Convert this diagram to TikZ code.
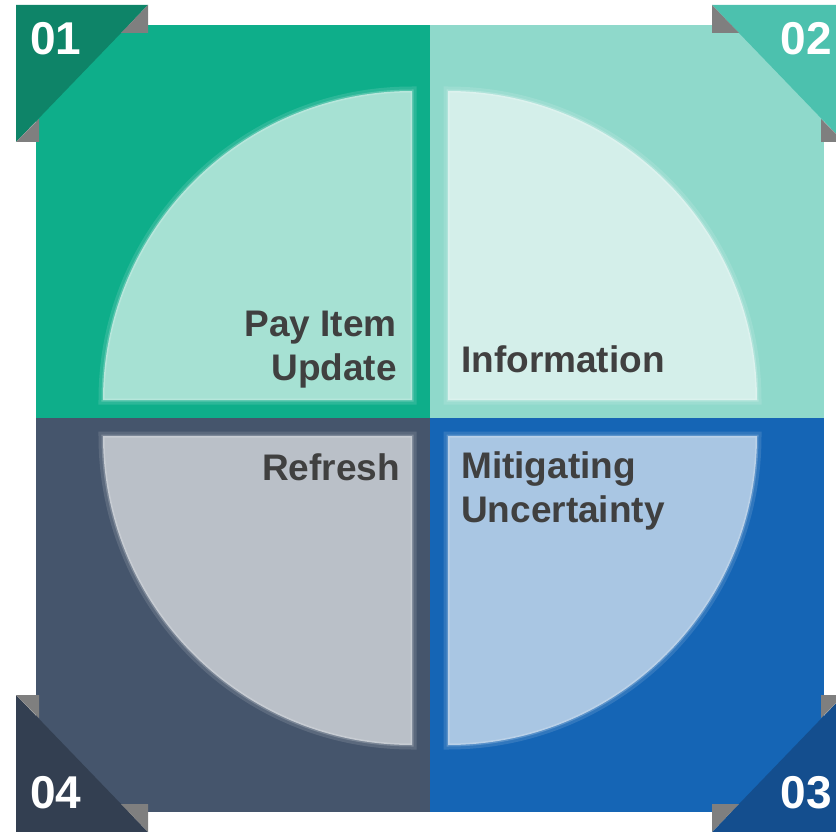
\documentclass[tikz,border=0pt]{standalone}
\usepackage{fontspec}
\setmainfont{Liberation Sans}

\definecolor{greenbg}{HTML}{0EAE8A}
\definecolor{greenin}{HTML}{A6E1D3}
\definecolor{greentab}{HTML}{0E8468}
\definecolor{mintbg}{HTML}{8FD9CB}
\definecolor{mintin}{HTML}{D4EFEA}
\definecolor{minttab}{HTML}{4CC1AE}
\definecolor{bluebg}{HTML}{1565B5}
\definecolor{bluein}{HTML}{A9C6E3}
\definecolor{bluetab}{HTML}{144E8E}
\definecolor{slatebg}{HTML}{45556C}
\definecolor{slatein}{HTML}{BAC0C8}
\definecolor{slatetab}{HTML}{333F51}
\definecolor{foldgray}{HTML}{7F7F7F}
\definecolor{labelgray}{HTML}{404040}

\begin{document}
\begin{tikzpicture}[
    x=1pt, y=-1pt,
    glow/.style={draw=white, draw opacity=0.12, line width=9pt},
    petal/.style={draw=white, draw opacity=0.2, line width=3pt},
    fold/.style={fill=foldgray},
    label/.style={font=\fontsize{37}{44}\selectfont\bfseries, text=labelgray, inner sep=0pt},
    num/.style={font=\fontsize{46}{46}\selectfont\bfseries, text=white, inner sep=0pt}
]
\useasboundingbox (0,0) rectangle (836,832);
\clip (0,0) rectangle (836,832);

% Four quadrants (square split in the middle)
\fill[greenbg] (36,25) rectangle (430,418);
\fill[mintbg] (430,25) rectangle (824,418);
\fill[slatebg] (36,418) rectangle (430,812);
\fill[bluebg] (430,418) rectangle (824,812);

% Quarter discs with a soft rim
\draw[glow] (412,400) -- (103,400) arc[start angle=180, end angle=270, radius=309] -- cycle;
\fill[greenin] (412,400) -- (103,400) arc[start angle=180, end angle=270, radius=309] -- cycle;
\draw[petal] (412,400) -- (103,400) arc[start angle=180, end angle=270, radius=309] -- cycle;
\draw[glow] (448,400) -- (448,91) arc[start angle=270, end angle=360, radius=309] -- cycle;
\fill[mintin] (448,400) -- (448,91) arc[start angle=270, end angle=360, radius=309] -- cycle;
\draw[petal] (448,400) -- (448,91) arc[start angle=270, end angle=360, radius=309] -- cycle;
\draw[glow] (448,436) -- (757,436) arc[start angle=0, end angle=90, radius=309] -- cycle;
\fill[bluein] (448,436) -- (757,436) arc[start angle=0, end angle=90, radius=309] -- cycle;
\draw[petal] (448,436) -- (757,436) arc[start angle=0, end angle=90, radius=309] -- cycle;
\draw[glow] (412,436) -- (412,745) arc[start angle=90, end angle=180, radius=309] -- cycle;
\fill[slatein] (412,436) -- (412,745) arc[start angle=90, end angle=180, radius=309] -- cycle;
\draw[petal] (412,436) -- (412,745) arc[start angle=90, end angle=180, radius=309] -- cycle;

% Corner tabs (drawn once, mirrored)
\begin{scope}[shift={(36,25)}]
  \fill[greentab] (-20,-20) -- (112,-20) -- (-20,117) -- cycle;
  \fill[fold] (112,-20) -- (112,8) -- (85,8) -- cycle;
  \fill[fold] (-20,117) -- (3,117) -- (3,94) -- cycle;
\end{scope}
\begin{scope}[shift={(824,25)}, xscale=-1]
  \fill[minttab] (-20,-20) -- (112,-20) -- (-20,117) -- cycle;
  \fill[fold] (112,-20) -- (112,8) -- (85,8) -- cycle;
  \fill[fold] (-20,117) -- (3,117) -- (3,94) -- cycle;
\end{scope}
\begin{scope}[shift={(824,812)}, xscale=-1, yscale=-1]
  \fill[bluetab] (-20,-20) -- (112,-20) -- (-20,117) -- cycle;
  \fill[fold] (112,-20) -- (112,8) -- (85,8) -- cycle;
  \fill[fold] (-20,117) -- (3,117) -- (3,94) -- cycle;
\end{scope}
\begin{scope}[shift={(36,812)}, yscale=-1]
  \fill[slatetab] (-20,-20) -- (112,-20) -- (-20,117) -- cycle;
  \fill[fold] (112,-20) -- (112,8) -- (85,8) -- cycle;
  \fill[fold] (-20,117) -- (3,117) -- (3,94) -- cycle;
\end{scope}

% Numbers
\node[num, anchor=base west] (n01) at (30,55) {01};
\node[num, anchor=base east] (n02) at (832,55) {02};
\node[num, anchor=base east] (n03) at (832,808) {03};
\node[num, anchor=base west] (n04) at (30,808) {04};

% Labels (base anchor sits on the last line)
\node[label, align=right, anchor=base east] (pay) at (397,380) {Pay Item\\Update};
\node[label, anchor=base west] (info) at (461,372) {Information};
\node[label, anchor=base east] (refresh) at (400,480) {Refresh};
\node[label, align=left, anchor=base west] (mitig) at (461,522) {Mitigating\\Uncertainty};

\end{tikzpicture}
\end{document}
